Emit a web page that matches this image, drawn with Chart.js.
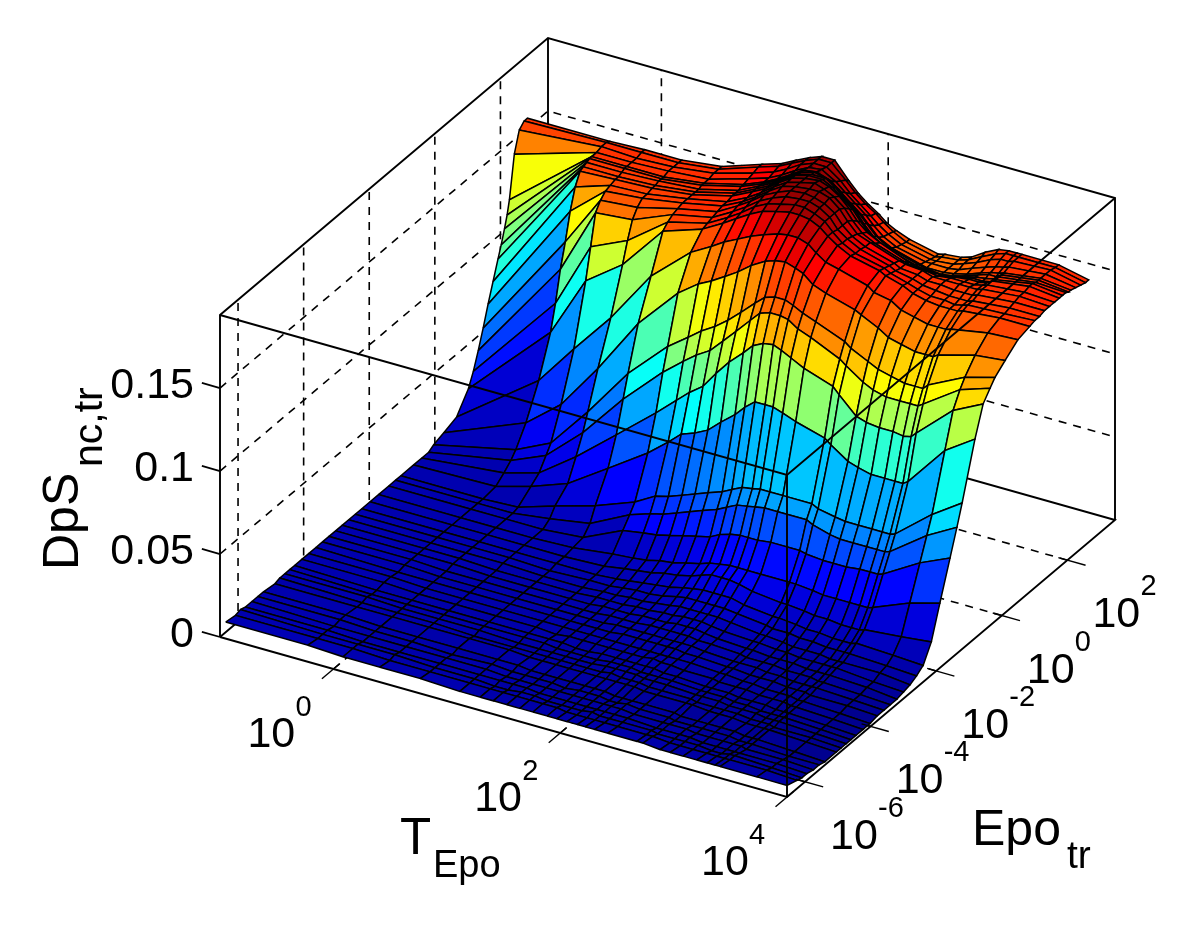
<!DOCTYPE html>
<html><head><meta charset="utf-8">
<style>html,body{margin:0;padding:0;background:#fff}canvas{display:block}</style>
<script src="https://cdn.jsdelivr.net/npm/chart.js"></script></head>
<body><canvas id="c" width="1200" height="930"></canvas>
<script>
// log10 of the mesh positions
const tEpoLog = [-0.95,-0.225,0.085,0.41,0.765,1.115,1.295,1.41,1.53,1.645,1.76,1.885,1.97,2.06,2.15,2.22,2.305,2.42,2.675,2.73,2.88,2.97,3.085,3.205,3.295,3.365,3.41,3.735,4];
const epoLog = [-6.55,-6.25,-6.1,-5.95,-5.75,-5.57,-5.4,-5.05,-4.9,-4.75,-4.6,-4.45,-4.23,-4.02,-3.8,-3.6,-3.4,-3.2,-3.0,-2.8,-2.6,-2.4,-2.15,-1.89,-1.58,-1.37,-1.21,-0.82,-0.57,-0.36,-0.21,0.1,0.49,0.85,1.0,1.15,1.3,1.45,1.6,1.75,1.85,1.95,2.03,2.1,2.25,2.4,2.55,2.65];
// DpS in thousandths, one row per epoLog entry, one column per tEpoLog entry
const dpsMilli = [
[10,10,9,9,9,8,8,8,8,8,8,8,8,8,8,8,8,8,8,8,7,7,7,7,7,7,7,7,7],
[9,9,9,8,8,8,8,8,8,8,8,8,7,7,7,7,7,7,7,7,6,6,6,6,6,6,6,6,5],
[10,9,9,9,8,8,7,7,8,8,7,7,7,7,8,7,7,7,7,6,6,6,6,5,5,6,6,5,4],
[9,9,8,8,8,8,8,8,8,7,7,7,7,7,7,7,7,7,6,6,6,6,5,5,5,5,5,5,4],
[9,8,8,8,8,8,7,7,7,7,7,7,7,7,7,7,7,6,6,6,6,5,5,5,5,5,4,4,3],
[9,9,8,8,7,8,7,7,7,7,6,7,7,7,6,6,7,6,6,5,5,5,5,5,4,4,4,3,3],
[9,9,8,8,8,8,8,7,7,7,7,7,7,7,6,6,6,6,6,5,5,5,5,5,4,4,4,3,2],
[8,8,8,8,8,8,7,7,7,7,7,7,7,7,7,7,6,6,6,6,5,5,5,4,4,4,4,3,2],
[9,8,8,8,7,7,7,7,7,7,7,7,8,7,7,7,6,6,6,5,5,5,5,4,4,4,3,3,2],
[9,9,8,8,8,7,7,7,7,7,7,8,8,8,8,7,7,7,6,6,6,5,5,5,4,4,4,3,2],
[9,8,8,8,8,8,8,7,7,7,7,8,8,8,7,7,7,7,6,6,6,5,5,4,4,4,4,3,2],
[9,8,8,8,8,8,8,8,7,7,8,8,8,8,8,8,7,7,6,6,6,5,5,5,4,4,4,3,2],
[9,9,8,8,8,8,7,8,8,8,8,8,8,8,9,8,8,7,7,6,6,6,5,5,5,4,4,3,2],
[9,9,8,8,8,8,8,8,8,8,8,8,8,8,8,8,8,8,7,7,6,6,5,5,5,4,4,3,2],
[9,8,8,8,8,8,8,8,8,8,9,9,9,9,9,9,8,8,7,7,6,6,6,5,5,5,4,4,3],
[9,9,8,8,8,8,8,8,8,9,9,9,9,9,9,9,9,8,7,7,7,6,6,5,5,5,5,4,3],
[9,9,8,8,8,8,8,8,9,9,9,10,10,10,10,10,9,9,8,7,7,7,6,6,6,5,5,4,3],
[9,9,9,8,8,8,8,9,9,9,10,10,10,11,11,11,10,9,8,8,7,7,7,6,6,6,6,5,3],
[9,9,9,8,8,8,9,9,9,10,10,11,11,12,12,12,11,10,9,9,8,8,7,7,7,7,7,5,4],
[9,9,9,9,8,8,9,9,10,10,11,12,13,13,13,13,13,12,10,10,9,8,8,8,7,7,7,7,5],
[9,9,9,9,8,9,9,10,11,11,12,14,15,15,15,15,15,14,12,11,11,10,10,9,9,9,9,8,7],
[9,9,9,9,9,9,10,11,12,13,14,16,17,18,18,18,18,16,14,14,13,12,12,11,11,11,12,11,10],
[9,9,9,9,9,10,12,13,14,16,17,19,21,23,23,23,22,20,18,18,17,16,16,15,15,15,16,18,20],
[9,9,9,9,10,13,14,15,17,18,20,22,24,25,26,26,26,26,26,26,25,24,24,24,24,24,25,34,39],
[9,9,9,9,11,22,24,25,27,29,31,33,36,38,39,39,39,40,40,39,38,38,38,39,39,39,40,53,61],
[9,9,9,12,16,28,32,34,37,40,43,46,49,52,53,54,55,55,55,53,50,49,49,49,49,49,50,66,76],
[9,9,10,17,24,33,40,42,45,48,51,54,57,60,61,62,62,62,62,60,58,57,57,57,57,57,58,76,88],
[9,10,16,24,40,56,66,73,76,80,87,94,100,105,105,105,103,100,95,92,85,83,81,81,81,81,83,108,120],
[9,14,20,36,56,76,87,94,100,110,119,127,133,136,137,135,132,128,122,118,108,106,105,105,104,105,108,128,137],
[9,18,27,47,74,97,107,113,118,126,134,143,149,151,151,150,146,143,135,132,125,122,120,120,120,120,122,137,143],
[11,22,32,57,87,110,119,125,130,136,143,151,156,158,158,156,153,150,143,140,135,132,130,128,128,128,131,142,147],
[13,33,50,78,112,137,146,150,155,160,166,171,173,174,172,170,165,162,157,155,150,146,144,142,142,142,144,150,152],
[16,52,77,102,134,155,162,167,171,175,178,181,182,182,180,176,172,170,165,162,160,156,154,152,152,152,153,157,158],
[27,75,112,128,155,163,170,175,180,184,186,188,188,187,184,180,176,172,168,166,163,160,158,157,157,157,158,160,160],
[35,90,130,140,158,164,171,176,182,186,188,190,190,188,185,180,175,171,167,165,162,160,158,158,157,158,159,160,161],
[45,108,148,150,160,165,172,177,183,187,190,191,191,189,185,179,175,171,166,164,162,160,159,158,158,158,159,161,161],
[56,122,153,155,161,166,173,178,184,188,191,192,191,189,185,179,174,170,165,163,162,160,160,159,159,159,160,162,162],
[68,138,156,158,162,167,173,178,184,189,191,192,192,190,185,179,173,170,164,163,162,160,160,160,160,160,161,163,162],
[79,150,157,158,162,167,173,178,184,189,191,193,191,188,183,177,171,167,161,160,159,158,159,159,159,160,161,163,162],
[90,157,158,159,162,168,174,178,184,189,191,192,190,186,180,174,169,165,158,157,156,156,157,158,158,159,161,164,162],
[97,158,158,159,162,168,174,178,184,189,191,191,188,183,178,172,166,161,155,154,153,154,155,157,157,158,160,164,162],
[105,159,159,160,162,168,174,178,183,188,190,190,186,180,175,169,163,158,153,152,151,152,154,156,157,158,160,163,162],
[112,160,160,160,163,169,174,178,183,188,190,188,184,178,173,168,162,157,152,151,150,151,153,156,158,158,160,163,161],
[120,160,160,160,163,169,174,178,183,188,189,186,181,176,171,166,160,156,151,150,150,151,153,156,158,159,160,163,161],
[145,160,160,161,163,170,174,178,183,187,188,183,178,173,168,163,158,154,150,150,150,151,154,157,159,160,161,163,160],
[157,161,160,161,164,171,175,179,184,187,187,181,175,170,165,161,157,153,149,149,150,152,155,159,161,161,162,163,159],
[160,161,161,161,164,172,176,180,184,187,187,179,173,168,164,160,156,152,148,149,150,152,156,160,162,162,162,162,158],
[160,160,161,161,164,172,176,180,184,187,187,177,171,166,162,158,155,152,148,149,150,152,157,161,162,162,162,162,158]
];
const zTicks = [0,0.05,0.1,0.15];
const zTickLabels = ['0','0.05','0.1','0.15'];
const tTickLog = [0,2,4];
const eTickLog = [-6,-4,-2,0,2];
const tLim = [-1,4], eLim = [-6.55,3.45], zLim = [0,0.194];

// orthographic projection of the MATLAB-style axes box
const ORIGIN=[220,637], AXT=[567,160], AXE=[328,-277], AXZ=[0,-322];
const uOf=t=>(t-tLim[0])/(tLim[1]-tLim[0]);
const vOf=e=>(e-eLim[0])/(eLim[1]-eLim[0]);
const wOf=z=>(z-zLim[0])/(zLim[1]-zLim[0]);
const proj=(t,e,z)=>{const u=uOf(t),v=vOf(e),w=wOf(z);
  return {x:ORIGIN[0]+u*AXT[0]+v*AXE[0]+w*AXZ[0], y:ORIGIN[1]+u*AXT[1]+v*AXE[1]+w*AXZ[1]};};
function jet(f){
  f=Math.max(0,Math.min(1,f));
  const c=g=>Math.round(255*Math.max(0,Math.min(1,1.5-Math.abs(4*f-g))));
  return `rgb(${c(3)},${c(2)},${c(1)})`;
}
const [T0,T1]=tLim,[E0,E1]=eLim,[Z0,Z1]=zLim;
const seg=(pts,extra)=>Object.assign({data:pts,showLine:true,fill:false,pointRadius:0,borderColor:'#000',borderWidth:1.8,tension:0,backgroundColor:'transparent'},extra||{});
const DASH={borderDash:[8,7],borderWidth:1.6};

const front=[],cells=[],back=[];
// box edges in front of the surface
front.push(seg([proj(T0,E0,Z1),proj(T1,E0,Z1),proj(T1,E1,Z1)],{borderWidth:1.9}));
front.push(seg([proj(T1,E0,Z0),proj(T1,E0,Z1)],{borderWidth:1.9}));
// ticks
zTicks.forEach(z=>back.push(seg([proj(T0,E0,z),proj(T0-0.16,E0,z)])));
tTickLog.forEach(t=>front.push(seg([proj(t,E0-0.35,Z0),proj(t,E0+0.2,Z0)],{borderWidth:1.4})));
eTickLog.forEach(e=>front.push(seg([proj(T1+0.16,e,Z0),proj(T1-0.08,e,Z0)],{borderWidth:1.4})));
// surface: nearest cell first (the library paints the list from last to first)
for(let j=0;j<epoLog.length-1;j++){
  for(let i=tEpoLog.length-2;i>=0;i--){
    const z=(a,b)=>dpsMilli[a][b]/1000;
    cells.push(seg([
      proj(tEpoLog[i],epoLog[j],z(j,i)),
      proj(tEpoLog[i+1],epoLog[j],z(j,i+1)),
      proj(tEpoLog[i+1],epoLog[j+1],z(j+1,i+1)),
      proj(tEpoLog[i],epoLog[j+1],z(j+1,i)),
      proj(tEpoLog[i],epoLog[j],z(j,i))
    ],{fill:'shape',backgroundColor:jet(z(j,i)/Z1),borderWidth:1.5,borderJoinStyle:'miter'}));
  }
}
// floor + wall grid and rear box edges
back.push(seg([proj(T0,E0,Z0),proj(T1,E0,Z0),proj(T1,E1,Z0),proj(T0,E1,Z0),proj(T0,E0,Z0)],{borderWidth:1.9}));
back.push(seg([proj(T0,E0,Z0),proj(T0,E0,Z1),proj(T0,E1,Z1),proj(T1,E1,Z1),proj(T1,E1,Z0)],{borderWidth:1.9}));
back.push(seg([proj(T0,E1,Z0),proj(T0,E1,Z1)],{borderWidth:1.9}));
zTicks.slice(1).forEach(z=>back.push(seg([proj(T0,E0,z),proj(T0,E1,z),proj(T1,E1,z)],DASH)));
tTickLog.slice(0,2).forEach(t=>{back.push(seg([proj(t,E0,Z0),proj(t,E1,Z0),proj(t,E1,Z1)],DASH));});
eTickLog.forEach(e=>{back.push(seg([proj(T1,e,Z0),proj(T0,e,Z0),proj(T0,e,Z1)],DASH));});

const textPlugin={id:'boxText',afterDraw(chart){
  const {ctx,scales:{x:sx,y:sy}}=chart;
  const px=p=>({x:sx.getPixelForValue(p.x),y:sy.getPixelForValue(p.y)});
  const F=s=>`${s}px "Liberation Sans", Arial, sans-serif`;
  ctx.save();ctx.fillStyle='#000';ctx.textBaseline='alphabetic';
  zTicks.forEach((z,i)=>{const p=px(proj(T0,E0,z));ctx.font=F(43);ctx.textAlign='right';ctx.fillText(zTickLabels[i],p.x-26,p.y+10);});
  ctx.textAlign='left';
  const pow=(x,y,exp,dy)=>{ctx.font=F(43);ctx.fillText('10',x,y);ctx.font=F(29);ctx.fillText(String(exp),x+48,y-dy);};
  tTickLog.forEach(t=>{const p=px(proj(t,E0,Z0));pow(p.x-86,p.y+78,t,31);});
  eTickLog.forEach(e=>{const p=px(proj(T1,e,Z0));pow(p.x+25,p.y+67,e,32);});
  ctx.font=F(51);ctx.fillText('T',400,854);
  ctx.font=F(38);ctx.fillText('Epo',433,877);
  ctx.font=F(50);ctx.fillText('Epo',972,845);
  ctx.font=F(39);ctx.fillText('tr',1067,868);
  ctx.translate(78,570);ctx.rotate(-Math.PI/2);
  ctx.font=F(50);ctx.fillText('DpS',0,0);
  ctx.font=F(41);ctx.fillText('nc,tr',103,24);
  ctx.restore();
}};

new Chart(document.getElementById('c'),{
  type:'scatter',
  data:{datasets:[...front,...cells,...back]},
  options:{responsive:false,animation:false,events:[],
    layout:{padding:0},
    plugins:{legend:{display:false},tooltip:{enabled:false},title:{display:false}},
    scales:{x:{type:'linear',min:0,max:1200,display:false},y:{type:'linear',min:0,max:930,reverse:true,display:false}}
  },
  plugins:[textPlugin]
});
</script></body></html>
